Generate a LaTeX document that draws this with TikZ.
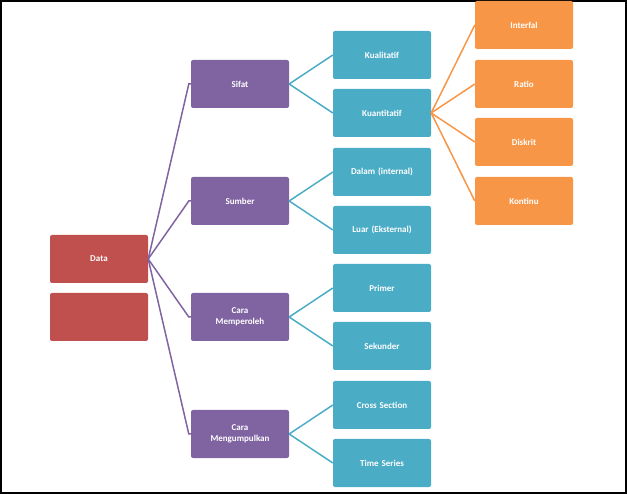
\documentclass[tikz,border=0pt]{standalone}
\usepackage{fontspec}
\setmainfont{Carlito}
\usetikzlibrary{calc}
\definecolor{merah}{HTML}{C0504D}
\definecolor{ungu}{HTML}{8064A2}
\definecolor{biru}{HTML}{4BACC6}
\definecolor{oranye}{HTML}{F79646}
\begin{document}
\begin{tikzpicture}[x=1pt,y=-1pt]

    % Ukuran kotak (lebar dan tinggi)
    \def\bw{98pt}
    \def\bh{48pt}

    % Gaya kotak
    \tikzstyle{kotak} = [
      rectangle, rounded corners=2pt, text=white, font=\bfseries\small,
      minimum width=\bw, minimum height=\bh, inner sep=1pt,
      align=center, text width=\bw-4pt
    ];

    % Bingkai gambar
    \draw[line width=2pt] (1,1) rectangle (626,493);

    % Akar
    \node[kotak, fill=merah] (data) at (99,259) {Data};
    \node[kotak, fill=merah] (kosong) at (99,317) {};

    % Tingkat pertama
    \node[kotak, fill=ungu] (sifat) at (240,84) {Sifat};
    \node[kotak, fill=ungu] (sumber) at (240,201) {Sumber};
    \node[kotak, fill=ungu] (peroleh) at (240,317) {Cara\\Memperoleh};
    \node[kotak, fill=ungu] (kumpul) at (240,434) {Cara\\Mengumpulkan};

    % Tingkat kedua
    \node[kotak, fill=biru] (kualitatif) at (382,55) {Kualitatif};
    \node[kotak, fill=biru] (kuantitatif) at (382,113) {Kuantitatif};
    \node[kotak, fill=biru] (dalam) at (382,172) {Dalam (internal)};
    \node[kotak, fill=biru] (luar) at (382,230) {Luar (Eksternal)};
    \node[kotak, fill=biru] (primer) at (382,288) {Primer};
    \node[kotak, fill=biru] (sekunder) at (382,346) {Sekunder};
    \node[kotak, fill=biru] (cross) at (382,405) {Cross Section};
    \node[kotak, fill=biru] (time) at (382,463) {Time Series};

    % Tingkat ketiga
    \node[kotak, fill=oranye] (interfal) at (524,25) {Interfal};
    \node[kotak, fill=oranye] (ratio) at (524,84) {Ratio};
    \node[kotak, fill=oranye] (diskrit) at (524,142) {Diskrit};
    \node[kotak, fill=oranye] (kontinu) at (524,201) {Kontinu};

    % Garis penghubung
    \foreach \b in {sifat,sumber,peroleh,kumpul}
      \draw[ungu, line width=1.5pt] (data.east) -- ($(\b.west)+(-2,0)$) -- (\b.west);
    \foreach \a/\b in {sifat/kualitatif,sifat/kuantitatif,sumber/dalam,sumber/luar,
                       peroleh/primer,peroleh/sekunder,kumpul/cross,kumpul/time}
      \draw[biru, line width=1.5pt] (\a.east) -- (\b.west);
    \foreach \b in {interfal,ratio,diskrit,kontinu}
      \draw[oranye, line width=1.5pt] (kuantitatif.east) -- (\b.west);

\end{tikzpicture}
\end{document}
